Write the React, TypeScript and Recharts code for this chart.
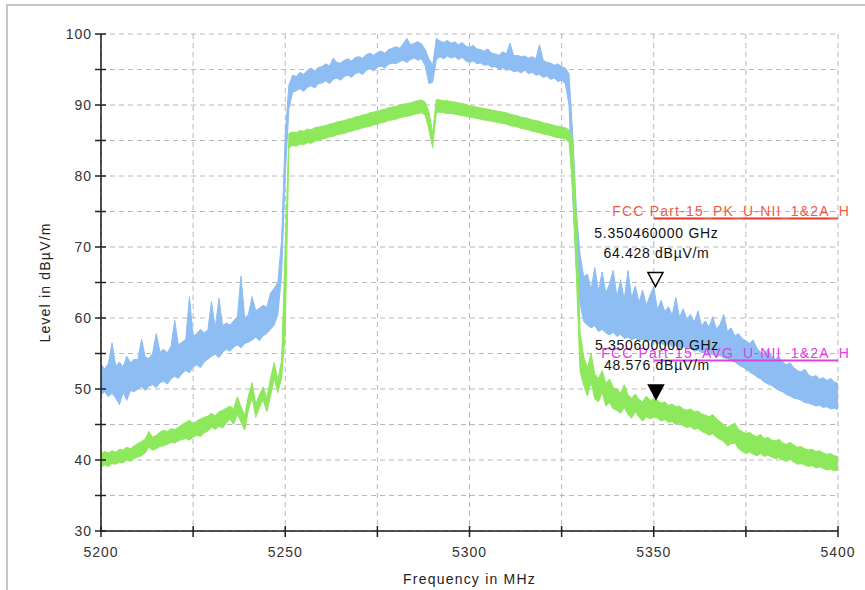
import { ComposedChart, Area, XAxis, YAxis, CartesianGrid, ReferenceLine, Scatter } from "recharts";

// sweep grid: 5200..5400 MHz, 1 MHz per bin
const START_MHZ = 5200;

// peak detector trace, lower / upper edge of the noise band (dBµV/m)
const peakLow = [
  49.2, 49.6, 48.9, 49.4, 48.7, 47.8, 49.5, 48.4, 49.8, 49.6,
  50.0, 50.3, 49.8, 50.4, 50.6, 50.2, 50.9, 51.1, 50.7, 51.4,
  51.8, 51.5, 52.2, 52.6, 52.3, 53.1, 53.4, 53.0, 53.8, 54.2,
  54.6, 54.9, 54.4, 55.2, 55.6, 55.3, 55.9, 56.2, 55.8, 56.4,
  56.6, 56.9, 57.3, 56.8, 57.5, 57.8, 58.4, 59.0, 60.5, 66.0,
  80.0, 89.5, 91.8, 92.0, 92.3, 91.9, 92.5, 92.7, 92.4, 93.0,
  93.1, 93.4, 93.0, 93.6, 93.8, 93.5, 94.0, 94.2, 93.9, 94.4,
  94.6, 94.3, 94.9, 95.1, 94.8, 95.3, 95.5, 95.2, 95.7, 95.9,
  95.8, 96.1, 96.3, 96.0, 96.4, 96.6, 96.3, 96.5, 95.5, 93.0,
  93.2, 96.4, 96.8, 96.5, 96.9, 96.6, 96.8, 96.4, 96.7, 96.2,
  96.0, 96.2, 95.8, 95.9, 95.6, 95.7, 95.3, 95.4, 95.1, 95.2,
  94.9, 95.0, 94.7, 94.8, 94.5, 94.9, 94.4, 94.6, 94.2, 94.3,
  93.9, 94.1, 93.6, 93.8, 93.3, 93.5, 93.0, 90.0, 77.0, 67.0,
  62.0, 59.5, 59.0, 58.6, 58.9, 58.1, 58.4, 57.9, 57.6, 58.0,
  57.4, 57.7, 57.1, 57.3, 56.9, 57.2, 56.8, 57.0, 56.6, 56.9,
  56.7, 56.3, 56.5, 56.1, 56.4, 55.9, 56.2, 55.8, 56.0, 55.6,
  55.7, 55.3, 55.5, 55.1, 55.2, 54.8, 54.9, 54.6, 54.7, 54.4,
  54.3, 54.0, 53.8, 53.4, 53.1, 52.8, 52.4, 52.1, 51.7, 51.4,
  51.0, 50.7, 50.5, 50.1, 49.8, 49.6, 49.2, 49.0, 48.7, 48.6,
  48.4, 48.1, 48.0, 47.8, 47.6, 47.7, 47.4, 47.5, 47.2, 47.3, 47.1,
];
const peakHigh = [
  53.5, 52.8, 53.6, 56.5, 53.2, 53.8, 53.1, 54.6, 53.7, 54.2,
  54.1, 57.0, 54.5, 54.3, 55.0, 57.8, 55.2, 55.6, 55.1, 56.0,
  59.7, 56.2, 56.6, 57.0, 63.0, 57.4, 57.8, 58.4, 57.9, 58.3,
  62.3, 58.6, 62.8, 58.9, 59.3, 59.0, 59.6, 60.2, 65.9, 60.0,
  60.5, 63.0, 61.0, 61.4, 61.8, 61.5, 63.5, 64.2, 65.0, 71.0,
  86.0, 92.8, 94.2, 94.0, 94.6, 94.3, 94.9, 95.2, 94.8, 95.3,
  95.4, 95.8, 95.5, 96.6, 96.0, 95.9, 96.3, 96.5, 96.2, 96.7,
  96.8, 96.6, 97.1, 97.3, 97.0, 97.4, 97.6, 97.3, 97.8, 98.0,
  98.2, 98.0, 98.6, 99.4, 98.5, 98.7, 98.9, 98.6, 97.8, 96.5,
  95.6, 99.4, 99.0, 98.8, 99.1, 98.7, 98.9, 98.5, 98.8, 98.3,
  98.1, 98.4, 97.9, 97.8, 97.6, 97.9, 97.3, 97.2, 97.0, 97.5,
  97.2, 98.7, 96.9, 97.0, 96.8, 96.9, 96.6, 96.8, 96.5, 98.5,
  96.3, 96.0, 95.9, 95.6, 95.8, 95.4, 95.2, 94.4, 86.0, 75.0,
  69.0, 65.8, 66.2, 64.0, 67.1, 63.8, 66.5, 63.5, 64.8, 66.7,
  63.0, 65.4, 62.6, 66.7, 62.8, 64.5, 62.2, 63.9, 61.8, 63.2,
  64.4, 61.2, 62.5, 60.9, 61.6, 60.4, 62.9, 60.1, 61.3, 59.8,
  60.5, 59.4, 61.0, 58.9, 59.6, 58.7, 60.2, 58.4, 59.1, 60.5,
  58.1, 58.6, 57.5, 57.8, 57.1, 56.8, 56.4, 56.9, 55.7, 55.2,
  55.0, 55.6, 54.6, 54.2, 54.5, 53.8, 53.4, 53.7, 53.0, 52.6,
  52.4, 52.8, 52.0, 51.7, 51.9, 51.4, 51.6, 51.2, 51.5, 51.0, 50.8,
];

// average detector trace
const avgLow = [
  39.0, 39.3, 39.1, 39.5, 39.4, 39.7, 39.6, 40.0, 39.8, 40.2,
  40.4, 40.6, 41.0, 41.8, 41.4, 41.6, 41.9, 42.0, 42.2, 42.5,
  42.4, 42.7, 42.9, 43.0, 42.8, 43.2, 43.5, 43.3, 43.8, 44.1,
  44.6, 44.3, 44.8, 44.5, 45.2, 45.8, 45.0, 46.5, 45.3, 44.2,
  47.0, 48.8, 46.0, 47.4, 48.5, 46.8, 49.0, 51.5, 49.5, 51.5,
  58.0, 84.0, 84.3, 84.2, 84.5, 84.4, 84.7, 84.6, 84.9, 85.0,
  85.2, 85.3, 85.5, 85.6, 85.8, 85.9, 86.0, 86.2, 86.3, 86.5,
  86.6, 86.8, 86.9, 87.0, 87.2, 87.3, 87.5, 87.6, 87.8, 87.9,
  88.0, 88.2, 88.3, 88.4, 88.5, 88.7, 88.8, 88.9, 88.6, 86.5,
  84.0, 88.9, 89.0, 88.9, 88.8, 88.8, 88.7, 88.6, 88.5, 88.4,
  88.3, 88.2, 88.1, 88.0, 87.9, 87.8, 87.7, 87.6, 87.5, 87.4,
  87.3, 87.1, 87.0, 86.9, 86.7, 86.6, 86.5, 86.3, 86.2, 86.1,
  85.9, 85.8, 85.7, 85.5, 85.4, 85.3, 85.2, 84.8, 78.0, 66.0,
  52.5, 50.5, 49.0, 51.0, 48.6, 48.2, 49.5, 47.6, 48.1, 47.2,
  47.0, 46.6, 47.4, 46.4, 45.9, 46.8, 46.0, 45.5, 46.1, 45.8,
  46.0, 45.9, 45.5, 45.7, 45.3, 45.4, 45.0, 45.2, 44.8, 44.6,
  44.7, 44.3, 44.5, 44.0, 43.8, 43.5, 43.7, 43.2, 42.9, 42.6,
  42.0, 42.3, 42.4, 41.6, 41.2, 40.9, 41.1, 40.8, 40.6, 40.9,
  40.5, 40.7, 40.4, 40.2, 40.3, 40.0, 39.8, 40.1, 39.7, 39.4,
  39.5, 39.3, 39.1, 39.2, 38.9, 39.0, 38.8, 38.6, 38.7, 38.5, 38.6,
];
const avgHigh = [
  40.9, 41.2, 41.0, 41.3, 41.1, 41.5, 41.4, 41.8, 41.6, 42.0,
  42.3, 42.6, 43.0, 44.0, 43.2, 43.5, 43.9, 44.2, 44.0, 44.4,
  44.3, 44.6, 45.0, 45.3, 45.6, 45.1, 45.5, 45.8, 46.0, 46.2,
  46.6, 46.2, 46.8, 47.0, 47.3, 47.6, 47.2, 48.9, 47.5, 46.3,
  49.0, 50.9, 47.9, 49.2, 50.3, 48.6, 51.5, 53.7, 51.3, 54.0,
  70.0, 86.0, 86.2, 86.1, 86.4, 86.3, 86.6, 86.5, 86.8, 86.9,
  87.0, 87.1, 87.3, 87.4, 87.6, 87.7, 87.8, 88.0, 88.1, 88.3,
  88.4, 88.6, 88.7, 88.9, 89.0, 89.1, 89.3, 89.4, 89.6, 89.7,
  89.8, 90.0, 90.1, 90.2, 90.3, 90.5, 90.6, 90.7, 90.4, 89.0,
  86.0, 90.8, 90.7, 90.6, 90.6, 90.5, 90.4, 90.3, 90.2, 90.1,
  89.9, 89.8, 89.7, 89.6, 89.5, 89.4, 89.3, 89.2, 89.1, 89.0,
  88.9, 88.7, 88.6, 88.5, 88.3, 88.2, 88.1, 87.9, 87.8, 87.7,
  87.5, 87.4, 87.3, 87.1, 87.0, 86.9, 86.8, 86.5, 85.0, 74.0,
  58.0, 54.5, 53.0, 55.0, 52.1, 51.5, 52.6, 50.8, 51.4, 50.2,
  50.0, 49.4, 50.6, 49.2, 48.7, 49.3, 48.5, 48.2, 49.0, 48.4,
  48.6, 48.4, 48.0, 48.2, 47.7, 47.9, 47.5, 47.6, 47.2, 47.0,
  47.2, 46.8, 46.9, 46.5, 46.3, 46.1, 46.4, 45.8, 45.4, 45.0,
  44.6, 44.9, 45.2, 44.3, 44.0, 43.7, 43.9, 43.5, 43.3, 43.6,
  43.0, 43.2, 42.8, 42.7, 42.9, 42.4, 42.2, 42.5, 42.1, 41.8,
  41.9, 41.6, 41.4, 41.5, 41.2, 41.3, 41.0, 40.8, 40.9, 40.6, 40.5,
];

// limit lines, valid from 5350 MHz up
const limitStartMHz = 5350;
const limitEndMHz = 5400;
const pkLimit = 74;
const avgLimit = 54;
const pkLimitName = "FCC Part-15_PK_U-NII_1&2A_H";
const avgLimitName = "FCC Part-15_AVG_U-NII_1&2A_H";

// markers
const markerFreqMHz = [5350.46, 5350.6];
const markerLevel = [64.428, 48.576];
const markerFilled = [false, true];

const xTicks = [5200, 5225, 5250, 5275, 5300, 5325, 5350, 5375, 5400];
const yTicks = [30, 35, 40, 45, 50, 55, 60, 65, 70, 75, 80, 85, 90, 95, 100];

const PEAK_COLOR = "#8dbdf2";
const AVG_COLOR = "#8ee85c";
const FONT = "'Liberation Sans', Arial, sans-serif";
const TICK_SIZE = 5;
const TICK_MARGIN = 4;

const rows = peakLow.map((lo, i) => ({
  f: START_MHZ + i,
  peak: [lo, peakHigh[i]],
  avg: [avgLow[i], avgHigh[i]],
}));

const markers = markerFreqMHz.map((f, i) => ({
  f,
  level: markerLevel[i],
  filled: markerFilled[i],
}));

function YTick(props: any) {
  const { x, y, payload } = props;
  const ax = x + TICK_SIZE + TICK_MARGIN;
  return (
    <g>
      <line x1={ax - 6} x2={ax + 5} y1={y} y2={y} stroke="#222" strokeWidth={1.5} />
      {payload.value % 10 === 0 && (
        <text x={x} y={y} textAnchor="end" dominantBaseline="central" fontSize={14} letterSpacing={1}
          fontFamily={FONT} fill="#333">{payload.value}</text>
      )}
    </g>
  );
}

function XTick(props: any) {
  const { x, y, payload } = props;
  const ay = y - TICK_SIZE - TICK_MARGIN;
  return (
    <g>
      <line x1={x} x2={x} y1={ay - 5} y2={ay + 6} stroke="#222" strokeWidth={1.5} />
      {payload.value % 50 === 0 && (
        <text x={x} y={ay + 26} textAnchor="middle" fontSize={14} letterSpacing={1}
          fontFamily={FONT} fill="#333">{payload.value}</text>
      )}
    </g>
  );
}

function MarkerShape(props: any) {
  const { cx, cy, payload } = props;
  const ghz = (payload.f / 1000).toFixed(9);
  return (
    <g>
      <text x={cx + 1} y={cy - 49} textAnchor="middle" fontSize={14} letterSpacing={0.7}
        fontFamily={FONT} fill="#111">{ghz} GHz</text>
      <text x={cx + 1} y={cy - 29} textAnchor="middle" fontSize={14} letterSpacing={0.7}
        fontFamily={FONT} fill="#111">{payload.level.toFixed(3)} dBµV/m</text>
      <path d={`M${cx - 7.5},${cy - 14} L${cx + 7.5},${cy - 14} L${cx},${cy} Z`}
        fill={payload.filled ? "#000" : "#fff"} stroke="#000" strokeWidth={1.5} />
    </g>
  );
}

function limitLabel(text: string, color: string) {
  return (p: any) => {
    const vb = p.viewBox;
    return (
      <text x={vb.x + vb.width + 12} y={vb.y - 3} textAnchor="end" fontSize={14} letterSpacing={1.2}
        fontFamily={FONT} fill={color}>{text}</text>
    );
  };
}

export default function App() {
  return (
    <div style={{ position: "absolute", left: 0, top: 0, width: 865, height: 590, background: "#fff" }}>
      <div style={{ position: "absolute", left: 6, top: 4, width: 880, height: 600,
        borderTop: "2px solid #c6c6c6", borderLeft: "2px solid #c6c6c6" }} />
      <div style={{ position: "absolute", left: 0, top: 0 }}>
        <ComposedChart width={865} height={590} data={rows}
          margin={{ top: 34, right: 27, bottom: 19, left: 41 }}>
          <CartesianGrid stroke="#b8b8b8" strokeDasharray="5 4" />
          <XAxis dataKey="f" type="number" domain={[5200, 5400]} ticks={xTicks} interval={0}
            height={40} tickSize={TICK_SIZE} tickMargin={TICK_MARGIN} tickLine={false}
            axisLine={{ stroke: "#1a1a1a", strokeWidth: 1.5 }} tick={<XTick />}
            label={(p: any) => (
              <text x={p.viewBox.x + p.viewBox.width / 2} y={p.viewBox.y + 53} textAnchor="middle"
                fontSize={14} letterSpacing={1.2} fontFamily={FONT} fill="#222">Frequency in MHz</text>
            )} />
          <YAxis type="number" domain={[30, 100]} ticks={yTicks} interval={0} width={60}
            tickSize={TICK_SIZE} tickMargin={TICK_MARGIN} tickLine={false}
            axisLine={{ stroke: "#1a1a1a", strokeWidth: 1.5 }} tick={<YTick />}
            label={(p: any) => {
              const cx = p.viewBox.x + 4;
              const cy = p.viewBox.y + p.viewBox.height / 2;
              return (
                <text x={cx} y={cy} transform={`rotate(-90 ${cx} ${cy})`} textAnchor="middle"
                  dominantBaseline="central" fontSize={14} letterSpacing={1.2} fontFamily={FONT}
                  fill="#222">Level in dBµV/m</text>
              );
            }} />
          <ReferenceLine segment={[{ x: limitStartMHz, y: avgLimit }, { x: limitEndMHz, y: avgLimit }]}
            stroke="#e040e0" strokeWidth={2} />
          <Area type="linear" dataKey="peak" stroke={PEAK_COLOR} strokeWidth={1} fill={PEAK_COLOR}
            fillOpacity={1} isAnimationActive={false} dot={false} activeDot={false} />
          <Area type="linear" dataKey="avg" stroke={AVG_COLOR} strokeWidth={1} fill={AVG_COLOR}
            fillOpacity={1} isAnimationActive={false} dot={false} activeDot={false} />
          <ReferenceLine segment={[{ x: limitStartMHz, y: pkLimit }, { x: limitEndMHz, y: pkLimit }]}
            stroke="#e8392c" strokeWidth={2} label={limitLabel(pkLimitName, "#e8604c")} />
          <ReferenceLine segment={[{ x: limitStartMHz, y: avgLimit }, { x: limitEndMHz, y: avgLimit }]}
            stroke="none" label={limitLabel(avgLimitName, "#e040e0")} />
          <Scatter data={markers} dataKey="level" shape={<MarkerShape />} isAnimationActive={false} />
        </ComposedChart>
      </div>
    </div>
  );
}
